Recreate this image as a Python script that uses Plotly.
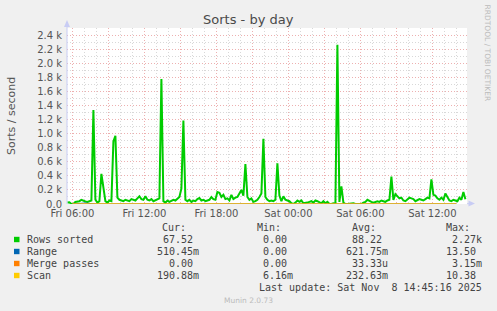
import plotly.graph_objects as go
import pandas as pd

# ---------------- data ----------------
sample_start = "2025-11-07 05:35"
rows_sorted = [
    20, 25, 0, 0, 30, 30, 40, 60, 45, 35,
    30, 40, 50, 1340, 60, 20, 40, 430, 200, 40,
    20, 50, 40, 890, 970, 90, 60, 50, 40, 60,
    50, 40, 70, 60, 50, 80, 110, 70, 60, 110,
    60, 50, 70, 40, 50, 60, 80, 1780, 40, 20,
    50, 30, 40, 60, 50, 70, 100, 220, 1190, 60,
    40, 60, 30, 50, 40, 70, 85, 50, 60, 40,
    50, 60, 100, 70, 60, 170, 160, 100, 130, 70,
    80, 50, 130, 70, 90, 100, 150, 200, 120, 570,
    100, 60, 80, 30, 40, 60, 100, 150, 930, 100,
    60, 40, 50, 40, 60, 580, 120, 40, 110, 60,
    50, 40, 10, 0, 20, 50, 30, 50, 10, 10,
    20, 30, 40, 20, 50, 40, 20, 10, 40, 10,
    30, 0, 0, 10, 0, 2270, 30, 250, 20, 0,
    0, 5, 0, 10, 0, 0, 5, 0, 20, 30,
    60, 40, 30, 20, 30, 40, 30, 50, 40, 30,
    50, 60, 390, 60, 140, 110, 80, 90, 50, 40,
    70, 90, 80, 70, 40, 50, 70, 60, 50, 70,
    90, 80, 350, 130, 120, 80, 60, 90, 60, 150,
    100, 50, 40, 60, 50, 40, 90, 60, 170, 68,
]

hourly_start = "2025-11-07 06:00"
range_vals = [0.5, 13.5, 0.6, 0.7, 0.5, 0.6, 0.5, 9.8, 0.6, 0.7, 0.5, 0.6,
              0.8, 0.7, 0.6, 0.5, 0.9, 0.6, 0.4, 0.3, 0.4, 0.3, 0.4, 0.3,
              0.4, 0.5, 0.6, 0.7, 0.6, 0.5, 0.6, 0.5, 0.51]
merge_vals = [0.0] * 33
scan_vals = [0.2, 0.3, 0.2, 0.2, 0.2, 0.3, 0.2, 0.3, 0.2, 0.2, 0.2, 0.3,
             10.38, 0.3, 0.2, 0.2, 0.3, 0.2, 0.1, 0.1, 0.1, 0.1, 0.1, 0.1,
             0.1, 0.2, 0.2, 0.3, 0.2, 0.2, 0.2, 0.2, 0.19]

x_tick_vals = ["2025-11-07 06:00", "2025-11-07 09:00", "2025-11-07 12:00",
               "2025-11-07 15:00", "2025-11-07 18:00", "2025-11-07 21:00",
               "2025-11-08 00:00", "2025-11-08 03:00", "2025-11-08 06:00",
               "2025-11-08 09:00", "2025-11-08 12:00"]
x_tick_text = ["Fri 06:00", "", "Fri 12:00", "", "Fri 18:00", "",
               "Sat 00:00", "", "Sat 06:00", "", "Sat 12:00"]
y_tick_vals = [0, 200, 400, 600, 800, 1000, 1200, 1400, 1600, 1800, 2000, 2200, 2400]
y_tick_text = ["0.0", "0.2 k", "0.4 k", "0.6 k", "0.8 k", "1.0 k", "1.2 k",
               "1.4 k", "1.6 k", "1.8 k", "2.0 k", "2.2 k", "2.4 k"]

legend_names = ["Rows sorted", "Range", "Merge passes", "Scan"]
legend_colors = ["#00CC00", "#0066B3", "#FF8000", "#FFCC00"]
cur_txt = ["67.52\u00a0", "510.45m", "0.00\u00a0", "190.88m"]
min_txt = ["0.00\u00a0", "0.00\u00a0", "0.00\u00a0", "6.16m"]
avg_txt = ["88.22\u00a0", "621.75m", "33.33u", "232.63m"]
max_txt = ["2.27k", "13.50\u00a0", "3.15m", "10.38\u00a0"]

# ---------------- geometry ----------------
W, H = 497, 311
L, R, T, B = 67, 30, 28, 107
PW, PH = W - L - R, H - T - B


def px(x):
    return (x - L) / PW


def py(y):
    return (H - B - y) / PH


t_samples = pd.date_range(sample_start, periods=len(rows_sorted), freq="10min")
t_hourly = pd.date_range(hourly_start, periods=len(range_vals), freq="h")

fig = go.Figure()
fig.add_trace(go.Scatter(x=t_samples, y=rows_sorted, mode="lines",
                         line=dict(color=legend_colors[0], width=2), showlegend=False))
fig.add_trace(go.Scatter(x=t_hourly, y=range_vals, mode="lines",
                         line=dict(color=legend_colors[1], width=1), showlegend=False))
fig.add_trace(go.Scatter(x=t_hourly, y=merge_vals, mode="lines",
                         line=dict(color=legend_colors[2], width=1), showlegend=False))
fig.add_trace(go.Scatter(x=t_hourly, y=scan_vals, mode="lines",
                         line=dict(color=legend_colors[3], width=1), showlegend=False))

tick_font = dict(family="DejaVu Sans", size=10, color="#555555")
mono = dict(family="DejaVu Sans Mono", size=10, color="#444444")

fig.update_layout(
    width=W, height=H,
    margin=dict(l=L, r=R, t=T, b=B, autoexpand=False),
    paper_bgcolor="#F0F0F0", plot_bgcolor="#FFFFFF",
    xaxis=dict(
        type="date", range=["2025-11-07 05:33", "2025-11-08 14:53"],
        tickvals=x_tick_vals, ticktext=x_tick_text, tickfont=tick_font,
        ticklabelstandoff=2,
        showgrid=True, gridcolor="#EDB0B0", griddash="1px,2px", gridwidth=1,
        ticks="", showline=False, zeroline=False, fixedrange=True,
        minor=dict(dtick=3600000, tick0="2025-11-07 00:00", showgrid=True,
                   gridcolor="#D8D8D8", griddash="1px,2px", gridwidth=1),
    ),
    yaxis=dict(
        range=[0, 2507], tickvals=y_tick_vals, ticktext=y_tick_text,
        tickfont=tick_font, ticks="", ticklabelstandoff=4,
        showgrid=True, gridcolor="#EDB0B0", griddash="1px,2px", gridwidth=1,
        showline=False, zeroline=False, fixedrange=True,
        minor=dict(dtick=100, tick0=0, showgrid=True,
                   gridcolor="#D8D8D8", griddash="1px,2px", gridwidth=1),
    ),
    showlegend=False,
)

shapes = []
axis_col = "#C8CCF4"
# y axis line + arrow
shapes.append(dict(type="line", xref="paper", yref="paper",
                   x0=px(67), x1=px(67), y0=py(204), y1=py(25),
                   line=dict(color=axis_col, width=1)))
shapes.append(dict(type="path", xref="paper", yref="paper",
                   path=f"M {px(64)} {py(27)} L {px(70)} {py(27)} L {px(67)} {py(20)} Z",
                   fillcolor=axis_col, line=dict(width=0)))
# x axis arrow
shapes.append(dict(type="line", xref="paper", yref="paper",
                   x0=px(467), x1=px(469), y0=py(203.7), y1=py(203.7),
                   line=dict(color=axis_col, width=1)))
shapes.append(dict(type="path", xref="paper", yref="paper",
                   path=f"M {px(468.5)} {py(200.5)} L {px(468.5)} {py(206.5)} L {px(475)} {py(203.5)} Z",
                   fillcolor=axis_col, line=dict(width=0)))
# legend swatches
row_y = [239.5, 251.5, 263.5, 275.5]
for c, yy in zip(legend_colors, row_y):
    shapes.append(dict(type="rect", xref="paper", yref="paper",
                       x0=px(14), x1=px(19.5), y0=py(yy + 2.7), y1=py(yy - 2.7),
                       fillcolor=c, line=dict(width=0)))
fig.update_layout(shapes=shapes)

ann = []


def text(x, y, s, font, xanchor="left", angle=0):
    ann.append(dict(x=px(x), y=py(y), xref="paper", yref="paper", text=s,
                    showarrow=False, xanchor=xanchor, yanchor="middle",
                    font=font, textangle=angle, borderpad=0))


text(248, 19.5, "Sorts - by day", dict(family="DejaVu Sans", size=13, color="#4A4A4A"), "center")
text(11, 116, "Sorts / second", dict(family="DejaVu Sans", size=11, color="#555555"), "center", -90)
text(487, 52.5, "RRDTOOL / TOBI OETIKER", dict(family="DejaVu Sans", size=7.5, color="#BBBBBB"), "center", 90)

text(186.5, 227.7, "Cur:", mono, "right")
text(281.5, 227.7, "Min:", mono, "right")
text(376.5, 227.7, "Avg:", mono, "right")
text(470.5, 227.7, "Max:", mono, "right")
for i, yy in enumerate(row_y):
    text(26, yy, legend_names[i], mono, "left")
    text(199.5, yy, cur_txt[i], mono, "right")
    text(294, yy, min_txt[i], mono, "right")
    text(388.5, yy, avg_txt[i], mono, "right")
    text(482.5, yy, max_txt[i], mono, "right")
text(482.5, 287.7, "Last update: Sat Nov \u00a08 14:45:16 2025", mono, "right")
text(248, 300, "Munin 2.0.73", dict(family="DejaVu Sans", size=7.5, color="#BBBBBB"), "center")
fig.update_layout(annotations=ann)

fig.write_html("out.html")
